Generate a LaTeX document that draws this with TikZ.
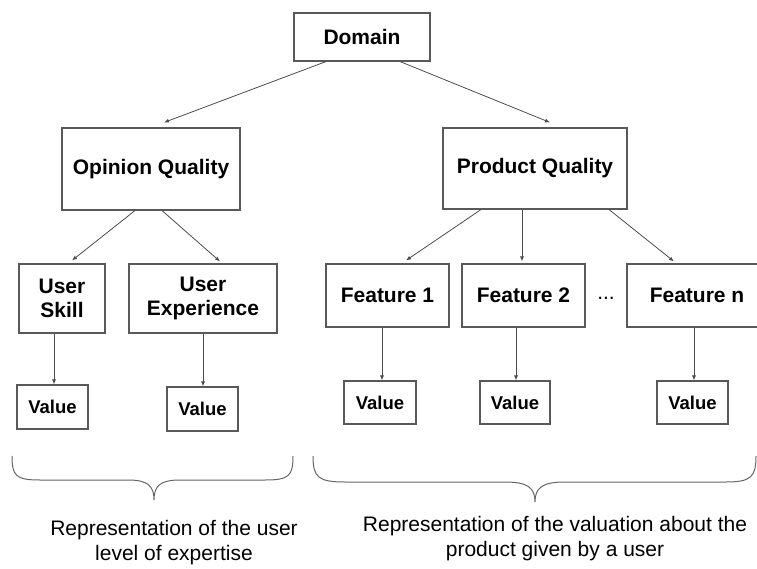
\documentclass[tikz,border=0pt]{standalone}
\usepackage{fontspec}
\setmainfont{Liberation Sans}
\usetikzlibrary{arrows.meta,calc}
\begin{document}
\begin{tikzpicture}[x=1pt,y=-1pt,
  box/.style={draw=black!65,line width=1.1pt,rectangle,inner sep=0pt,align=center,
    font=\fontsize{21}{24}\selectfont\bfseries},
  valbox/.style={box,minimum width=71pt,minimum height=44pt,font=\fontsize{18.5}{22}\selectfont\bfseries},
  conn/.style={draw=black!70,line width=0.8pt,-{Latex[length=5pt,width=4pt]}},
  brace/.style={draw=black!60,line width=1pt},
  caption/.style={align=center,font=\fontsize{21}{25}\selectfont}]
\useasboundingbox (0,0) rectangle (757,569);
% nodes
\node[box,minimum width=136pt,minimum height=48pt] (dom) at (362,37) {Domain};
\node[box,minimum width=178pt,minimum height=82pt] (oq) at (151,169) {Opinion Quality};
\node[box,minimum width=184pt,minimum height=81pt] (pq) at (535,168.5) {Product Quality};
\node[box,minimum width=86pt,minimum height=69pt] (us) at (62,298.5) {User\\Skill};
\node[box,minimum width=148pt,minimum height=69pt] (ue) at (203,298.5) {User\\Experience};
\node[box,minimum width=123pt,minimum height=63pt] (f1) at (387.5,295.5) {Feature 1};
\node[box,minimum width=123pt,minimum height=63pt] (f2) at (523.5,295.5) {Feature 2};
\node[box,minimum width=140pt,minimum height=63pt] (fn) at (697,295.5) {Feature n};
\node[font=\fontsize{21}{24}\selectfont] (dots) at (606,298) {...};
\node[valbox] (usv) at (52.5,407) {Value};
\node[valbox] (uev) at (202.5,409) {Value};
\node[valbox,minimum width=72pt,minimum height=43pt] (f1v) at (380,402.5) {Value};
\node[valbox,minimum width=70pt,minimum height=43pt] (f2v) at (515,402.5) {Value};
\node[valbox,minimum width=71pt,minimum height=43pt] (fnv) at (692.5,402.5) {Value};
% connectors
\draw[conn] ([xshift=-36pt]dom.south) -- ([xshift=13pt,yshift=5pt]oq.north);
\draw[conn] ([xshift=38pt]dom.south) -- ([xshift=15pt,yshift=5pt]pq.north);
\draw[conn] ([xshift=-16pt]oq.south) -- ([xshift=10pt,yshift=3pt]us.north);
\draw[conn] ([xshift=11pt]oq.south) -- ([xshift=17pt,yshift=2pt]ue.north);
\draw[conn] ([xshift=-54pt]pq.south) -- ([xshift=18.5pt,yshift=3pt]f1.north);
\draw[conn] ([xshift=-13pt]pq.south) -- ([xshift=-1.5pt,yshift=2pt]f2.north);
\draw[conn] ([xshift=74pt]pq.south) -- ([xshift=-23pt,yshift=2pt]fn.north);
\draw[conn] ([xshift=-8pt]us.south) -- ([xshift=1.5pt]usv.north);
\draw[conn] (ue.south) -- ([xshift=0.5pt]uev.north);
\draw[conn] ([xshift=-5.5pt]f1.south) -- ([xshift=2pt]f1v.north);
\draw[conn] ([xshift=-7.5pt]f2.south) -- ([xshift=1pt]f2v.north);
\draw[conn] ([xshift=-3pt]fn.south) -- ([xshift=1.5pt]fnv.north);
% braces
\draw[brace] (12,456) .. controls (12,476) and (16,480) .. (40,480) -- (128,480)
  .. controls (148,480) and (154,486) .. (154,500)
  .. controls (154,486) and (160,480) .. (180,480) -- (265,480)
  .. controls (289,480) and (293,476) .. (293,456);
\draw[brace] (313,456) .. controls (313,477) and (318,482) .. (345,482) -- (505,482)
  .. controls (528,482) and (535,488) .. (535,502)
  .. controls (535,488) and (542,482) .. (565,482) -- (726,482)
  .. controls (751,482) and (756,477) .. (756,456);
% captions
\node[caption] (capl) at (174,543) {Representation of the user\\level of expertise};
\node[caption] (capr) at (555,539) {Representation of the valuation about the\\product given by a user};
\end{tikzpicture}
\end{document}
